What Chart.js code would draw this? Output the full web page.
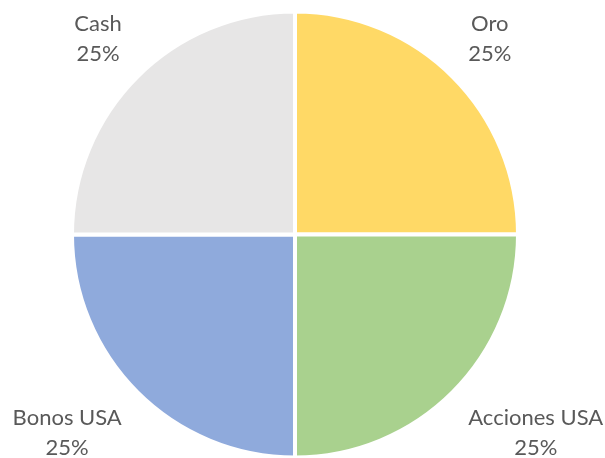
<!DOCTYPE html>
<html>
<head>
<meta charset="utf-8">
<script src="https://cdn.jsdelivr.net/npm/chart.js@4"></script>
<style>
  html, body { margin: 0; padding: 0; background: #ffffff; }
  #wrap { width: 605px; height: 458px; position: relative; }
</style>
</head>
<body>
<div id="wrap"><canvas id="c"></canvas></div>
<script>
const categories = ["Oro", "Acciones USA", "Bonos USA", "Cash"];
const values = [25, 25, 25, 25];
const colors = ["#FFD966", "#A9D18E", "#8FAADC", "#E7E6E6"];

const labelPlugin = {
  id: "outerLabels",
  afterDatasetsDraw(chart) {
    const ctx = chart.ctx;
    const meta = chart.getDatasetMeta(0);
    const data = chart.data.datasets[0].data;
    const total = data.reduce((a, b) => a + b, 0);
    ctx.save();
    ctx.font = "22px Lato";
    ctx.fillStyle = "#595959";
    ctx.textAlign = "center";
    ctx.textBaseline = "alphabetic";
    meta.data.forEach((arc, i) => {
      const p = arc.getProps(["x", "y", "startAngle", "endAngle", "outerRadius"], true);
      const mid = (p.startAngle + p.endAngle) / 2;
      const c = Math.cos(mid), s = Math.sin(mid);
      const r = p.outerRadius + 22;
      const px = p.x + c * r, py = p.y + s * r;
      const lines = [chart.data.labels[i], Math.round(data[i] / total * 100) + "%"];
      const w = Math.max(...lines.map(t => ctx.measureText(t).width));
      const cx = c >= 0 ? px + w / 2 : px - w / 2;
      let b1, b2;
      if (s < 0) { b2 = py; b1 = py - 30; } else { b1 = py + 17; b2 = py + 47; }
      ctx.fillText(lines[0], cx, b1);
      ctx.fillText(lines[1], cx, b2);
    });
    ctx.restore();
  }
};

new Chart(document.getElementById("c"), {
  type: "pie",
  data: {
    labels: categories,
    datasets: [{
      data: values,
      backgroundColor: colors,
      borderColor: "#ffffff",
      borderWidth: 4
    }]
  },
  options: {
    responsive: true,
    maintainAspectRatio: false,
    animation: false,
    radius: 223,
    layout: { padding: { left: 0, right: 15, top: 11, bottom: 0 } },
    plugins: {
      legend: { display: false },
      tooltip: { enabled: false }
    }
  },
  plugins: [labelPlugin]
});
</script>
</body>
</html>
